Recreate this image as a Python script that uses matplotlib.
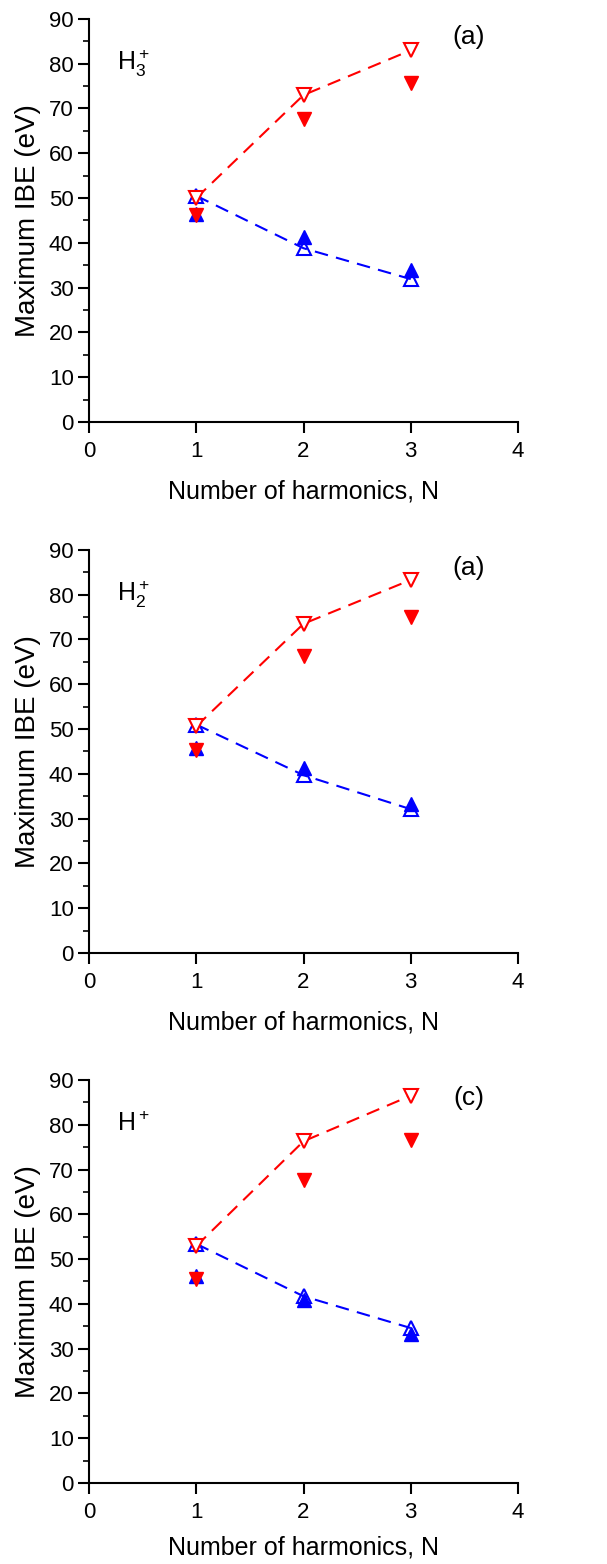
import matplotlib
matplotlib.use("Agg")
import matplotlib.pyplot as plt
from matplotlib.ticker import MultipleLocator

plt.rcParams['font.family'] = ['Liberation Sans', 'DejaVu Sans']
plt.rcParams['mathtext.fontset'] = 'custom'
plt.rcParams['mathtext.rm'] = 'Liberation Sans'
plt.rcParams['mathtext.it'] = 'Liberation Sans:italic'

N = [1, 2, 3]

# panel labels and species
panel_tags = ['(a)', '(a)', '(c)']
species = [r'$\mathrm{H}_3^+$', r'$\mathrm{H}_2^+$', r'$\mathrm{H}^+$']

# open red down-triangles (upper curve, dashed)
red_open = [[50.0, 73.0, 83.0],
            [50.6, 73.5, 83.3],
            [52.9, 76.3, 86.5]]
# filled red down-triangles
red_fill = [[46.2, 67.6, 75.7],
            [45.4, 66.2, 75.0],
            [45.6, 67.6, 76.6]]
# open blue up-triangles (lower curve, dashed)
blue_open = [[50.5, 38.8, 31.9],
             [51.0, 39.7, 32.1],
             [53.4, 41.7, 34.6]]
# filled blue up-triangles
blue_fill = [[46.4, 41.3, 33.9],
             [45.8, 41.3, 33.3],
             [46.2, 40.9, 33.3]]

fig = plt.figure(figsize=(6.07, 15.64), dpi=100)

bottoms = [0.7302, 0.3907, 0.0518]
xpads = [12, 12, 9]
ms = 10.5
dash = (0, (6.5, 4))

for i in range(3):
    ax = fig.add_axes([0.1466, bottoms[i], 0.7068, 0.2577])

    ax.plot(N, blue_fill[i], linestyle='none', marker='^', ms=ms, color='#0000ff')
    ax.plot(N, blue_open[i], linestyle=dash, lw=1.5, color='#0000ff',
            marker='^', ms=ms, mfc='none', mew=1.5)
    ax.plot(N, red_fill[i], linestyle='none', marker='v', ms=ms, color='#ff0000')
    ax.plot(N, red_open[i], linestyle=dash, lw=1.5, color='#ff0000',
            marker='v', ms=ms, mfc='white', mew=1.5)

    ax.set_xlim(0, 4)
    ax.set_ylim(0, 90)
    ax.xaxis.set_major_locator(MultipleLocator(1))
    ax.yaxis.set_major_locator(MultipleLocator(10))
    ax.yaxis.set_minor_locator(MultipleLocator(5))
    ax.spines['top'].set_visible(False)
    ax.spines['right'].set_visible(False)
    ax.spines['left'].set_linewidth(1.5)
    ax.spines['bottom'].set_linewidth(1.5)
    ax.tick_params(which='major', direction='out', length=8, width=1.5, labelsize=16)
    ax.tick_params(axis='x', which='major', pad=6)
    ax.tick_params(axis='y', which='major', pad=3)
    ax.tick_params(which='minor', direction='out', length=4, width=1.2)

    ax.set_xlabel('Number of harmonics, N', fontsize=18, labelpad=xpads[i])
    ax.set_ylabel('Maximum IBE (eV)', fontsize=20, labelpad=6)

    ax.text(3.54, 86, panel_tags[i], fontsize=19, ha='center', va='center')
    ax.text(0.26, 78.5, species[i], fontsize=18, ha='left', va='baseline')

fig.savefig('out.png', dpi=100)
